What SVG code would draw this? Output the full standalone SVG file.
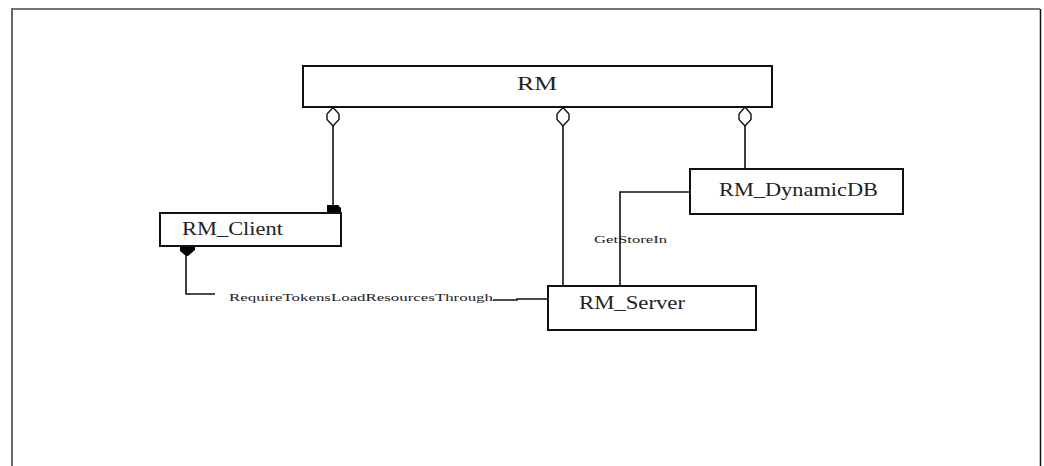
<svg xmlns="http://www.w3.org/2000/svg" width="1044" height="466" viewBox="0 0 1044 466">
<style>
.box{fill:#fff;stroke:#111;stroke-width:2}
.lbl{font-family:"Liberation Serif","Times New Roman",serif;font-size:18px;fill:#222}
.sm{font-family:"Liberation Serif","Times New Roman",serif;font-size:11px;fill:#222}
.ln{fill:none;stroke:#111;stroke-width:1.6}
.dia{fill:#fff;stroke:#111;stroke-width:1.4}
.fill{fill:#000}
</style>
<rect x="0" y="0" width="1044" height="466" fill="#fff"/>
<g id="frame">
<line x1="11.5" y1="9" x2="1040" y2="9" stroke="#777" stroke-width="2"/>
<line x1="12" y1="8" x2="12" y2="466" stroke="#666" stroke-width="2"/>
<line x1="1040.5" y1="9" x2="1040.5" y2="466" stroke="#111" stroke-width="1.5"/>
</g>
<g id="connectors">
<line class="ln" x1="333" y1="126" x2="333" y2="206"/>
<line class="ln" x1="563" y1="126" x2="563" y2="286"/>
<line class="ln" x1="745" y1="126" x2="745" y2="169"/>
<polyline class="ln" points="690,192 620,192 620,286"/>
<polyline class="ln" points="186,254 186,294 215,294"/>
<polyline class="ln" points="493,300 517,300 517,299 548,299"/>
<polygon class="dia" points="333,107.5 339,114 339,119.5 333,126 327,119.5 327,114"/>
<polygon class="dia" points="563,107.5 569,114 569,119.5 563,126 557,119.5 557,114"/>
<polygon class="dia" points="745,107 751,114 751,119.5 745,126 739,119.5 739,114"/>
<path class="fill" d="M327,205 L338,205 L341,208 L341,215 L327,215 Z"/>
<path class="fill" d="M180,246 L195,246 L195,250 L188,256 L186,256 L180,251 Z"/>
<text class="sm" x="229" y="301" textLength="264" lengthAdjust="spacingAndGlyphs">RequireTokensLoadResourcesThrough</text>
<text class="sm" x="594" y="243" textLength="73" lengthAdjust="spacingAndGlyphs">GetStoreIn</text>
</g>
<g id="RM">
<rect class="box" x="303" y="66" width="469" height="41"/>
<text class="lbl" x="517" y="90" textLength="40" lengthAdjust="spacingAndGlyphs">RM</text>
</g>
<g id="RM_Client">
<rect class="box" x="160" y="213" width="181" height="33"/>
<text class="lbl" x="182" y="235" textLength="101" lengthAdjust="spacingAndGlyphs">RM_Client</text>
</g>
<g id="RM_DynamicDB">
<rect class="box" x="690" y="169" width="213" height="45"/>
<text class="lbl" x="719" y="196" textLength="159" lengthAdjust="spacingAndGlyphs">RM_DynamicDB</text>
</g>
<g id="RM_Server">
<rect class="box" x="548" y="286" width="208" height="44"/>
<text class="lbl" x="579" y="309" textLength="106" lengthAdjust="spacingAndGlyphs">RM_Server</text>
</g>
</svg>
